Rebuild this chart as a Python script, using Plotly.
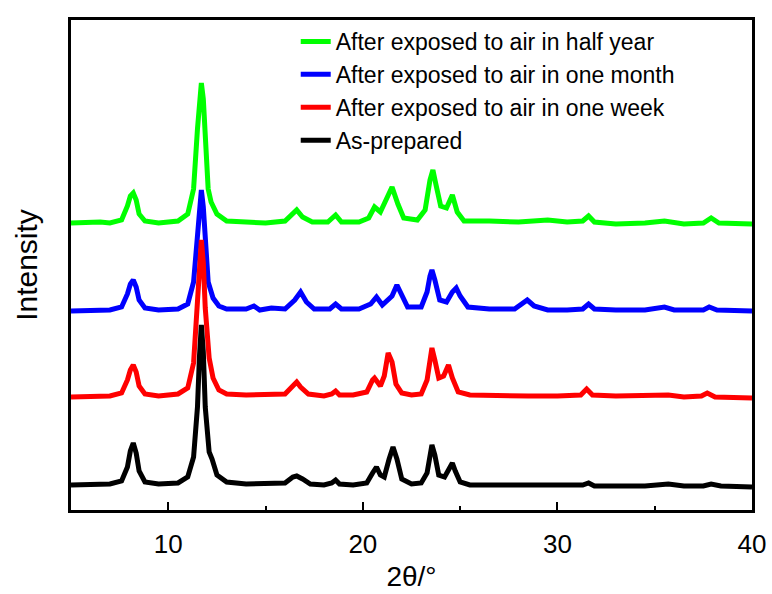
import plotly.graph_objects as go

# ---- data (2theta in degrees, intensity in arbitrary units above each baseline)
names = ["After exposed to air in half year",
         "After exposed to air in one month",
         "After exposed to air in one week",
         "As-prepared"]
colors = ["#00ff00", "#0000ff", "#ff0000", "#000000"]
offsets = [286, 198, 112, 23]

x_half = [5.0, 6.0, 6.5, 7.0, 7.6, 7.9, 8.05, 8.2, 8.35, 8.5, 8.8, 9.5, 10.5, 11.0, 11.3, 11.5, 11.6, 11.7,
          11.8, 11.9, 12.05, 12.2, 12.5, 13.0, 14.0, 15.0, 16.0, 16.4, 16.6, 16.9, 17.4, 18.2, 18.6, 18.9,
          19.8, 20.3, 20.6, 20.9, 21.2, 21.5, 21.8, 22.1, 22.8, 23.2, 23.45, 23.6, 23.75, 24.0, 24.3, 24.6,
          24.85, 25.2, 26.5, 28.0, 29.5, 30.5, 31.3, 31.6, 31.9, 33.0, 34.5, 35.5, 36.5, 37.5, 37.9, 38.3, 40.0]
y_half = [1, 2, 2, 1, 4, 18, 28, 31, 24, 10, 3, 1, 3, 10, 35, 95, 125, 141,
          125, 80, 35, 22, 10, 3, 2, 1, 3, 11, 14, 7, 2, 2, 9, 2,
          2, 6, 17, 12, 24, 37, 20, 6, 4, 14, 44, 54, 40, 18, 16, 29,
          12, 3, 3, 2, 4, 2, 3, 8, 2, 0, 1, 3, 0, 1, 6, 1, 0]

x_month = [5.0, 6.0, 7.0, 7.6, 7.9, 8.05, 8.2, 8.35, 8.5, 8.8, 9.5, 10.5, 11.0, 11.3, 11.5, 11.6, 11.7,
           11.8, 11.9, 12.05, 12.3, 12.6, 13.0, 14.0, 14.4, 14.7, 15.3, 16.0, 16.5, 16.8, 17.1, 17.5, 18.3,
           18.6, 18.9, 19.8, 20.4, 20.7, 21.0, 21.5, 21.75, 22.0, 22.3, 23.0, 23.3, 23.45, 23.55, 23.7,
           23.95, 24.3, 24.6, 24.8, 25.0, 25.4, 26.5, 27.8, 28.2, 28.45, 28.8, 29.5, 30.5, 31.3, 31.6, 31.9,
           33.0, 34.5, 35.5, 36.0, 37.5, 37.8, 38.2, 39.0, 40.0]
y_month = [1, 2, 2, 5, 18, 28, 32, 25, 12, 4, 2, 3, 8, 30, 80, 105, 122,
           105, 70, 30, 14, 6, 3, 3, 6, 2, 4, 3, 12, 20, 10, 3, 3,
           8, 3, 3, 8, 15, 7, 16, 27, 16, 5, 5, 20, 36, 42, 32,
           12, 10, 20, 24, 16, 5, 3, 3, 8, 12, 6, 2, 2, 3, 8, 3,
           2, 2, 5, 2, 2, 5, 2, 1, 1]

x_week = [5.0, 6.0, 7.0, 7.6, 7.9, 8.05, 8.2, 8.35, 8.5, 8.8, 9.5, 10.5, 11.0, 11.3, 11.5, 11.6, 11.7,
          11.8, 11.9, 12.1, 12.3, 12.6, 13.0, 14.0, 15.0, 16.0, 16.4, 16.6, 16.8, 17.2, 18.0, 18.4, 18.6,
          18.8, 19.5, 20.2, 20.5, 20.6, 20.9, 21.1, 21.3, 21.5, 21.7, 22.0, 22.5, 23.0, 23.3, 23.45, 23.55,
          23.7, 23.9, 24.15, 24.4, 24.6, 24.9, 25.5, 27.0, 28.5, 30.0, 31.2, 31.5, 31.8, 33.0, 34.5, 35.7,
          36.5, 37.4, 37.7, 38.1, 40.0]
y_week = [1, 2, 2, 5, 18, 28, 33, 26, 12, 4, 2, 4, 10, 35, 90, 135, 158,
          135, 90, 40, 20, 8, 4, 3, 3, 4, 12, 16, 11, 4, 2, 4, 7,
          3, 3, 6, 18, 20, 12, 22, 45, 36, 14, 5, 3, 4, 18, 42, 50,
          38, 20, 22, 33, 20, 6, 3, 2, 2, 2, 3, 9, 3, 2, 2, 3,
          1, 2, 5, 1, 0]

x_prep = [5.0, 6.0, 7.0, 7.6, 7.9, 8.05, 8.2, 8.35, 8.5, 8.8, 9.5, 10.5, 11.0, 11.3, 11.5, 11.6, 11.7,
          11.8, 11.9, 12.1, 12.25, 12.5, 13.0, 14.0, 15.0, 16.0, 16.4, 16.6, 16.9, 17.3, 18.0, 18.4, 18.6,
          18.8, 19.5, 20.2, 20.5, 20.7, 20.9, 21.1, 21.35, 21.55, 21.75, 22.0, 22.5, 23.0, 23.3, 23.45,
          23.55, 23.7, 23.9, 24.2, 24.45, 24.6, 24.75, 25.0, 25.5, 27.0, 28.5, 30.0, 31.3, 31.6, 31.9,
          33.0, 34.5, 35.7, 36.5, 37.5, 37.9, 38.4, 40.0]
y_prep = [2, 2, 3, 6, 20, 36, 44, 34, 16, 5, 3, 4, 10, 30, 80, 130, 162,
          135, 80, 35, 28, 12, 5, 3, 3, 4, 10, 11, 8, 3, 2, 4, 7,
          3, 2, 4, 14, 20, 12, 10, 28, 40, 28, 8, 3, 4, 14, 34,
          42, 32, 12, 10, 20, 24, 16, 5, 2, 2, 1, 1, 2, 4, 1,
          1, 1, 3, 1, 1, 3, 1, 0]

xs = [x_half, x_month, x_week, x_prep]
ys = [y_half, y_month, y_week, y_prep]

x_ticks = [10, 20, 30, 40]
x_tick_text = ["10", "20", "30", "40"]

FONT = "Liberation Sans, Arial, sans-serif"

fig = go.Figure()
for name, color, off, xv, yv in zip(names, colors, offsets, xs, ys):
    fig.add_trace(go.Scatter(
        x=xv, y=[v + off for v in yv], mode="lines", name=name,
        line=dict(color=color, width=5),
    ))

fig.update_layout(
    width=772, height=594,
    margin=dict(l=71, r=20, t=20, b=84),
    paper_bgcolor="white", plot_bgcolor="white",
    font=dict(family=FONT, color="black"),
    showlegend=True,
    legend=dict(
        x=0.33, y=1.0, xanchor="left", yanchor="top",
        bgcolor="rgba(0,0,0,0)", borderwidth=0,
        font=dict(size=23, family=FONT, color="black"),
        itemwidth=30,
    ),
    xaxis=dict(
        range=[5, 40], showgrid=False, zeroline=False, automargin=False,
        showline=True, linecolor="black", linewidth=2.5, mirror=True,
        ticks="inside", ticklen=8, tickwidth=2, tickcolor="black",
        tickvals=x_ticks, ticktext=x_tick_text,
        tickfont=dict(size=26, family=FONT),
        ticklabelstandoff=9,
        minor=dict(ticks="inside", ticklen=4, tickwidth=2, tickcolor="black", dtick=5, tick0=5),
        title=dict(text="2θ/°", font=dict(size=28, family=FONT), standoff=9),
    ),
    yaxis=dict(
        range=[0, 490], showgrid=False, zeroline=False, automargin=False,
        showline=True, linecolor="black", linewidth=2.5, mirror=True,
        ticks="", showticklabels=False,
        title=dict(text="Intensity", font=dict(size=30, family=FONT), standoff=22),
    ),
)

fig.write_html("out.html")
